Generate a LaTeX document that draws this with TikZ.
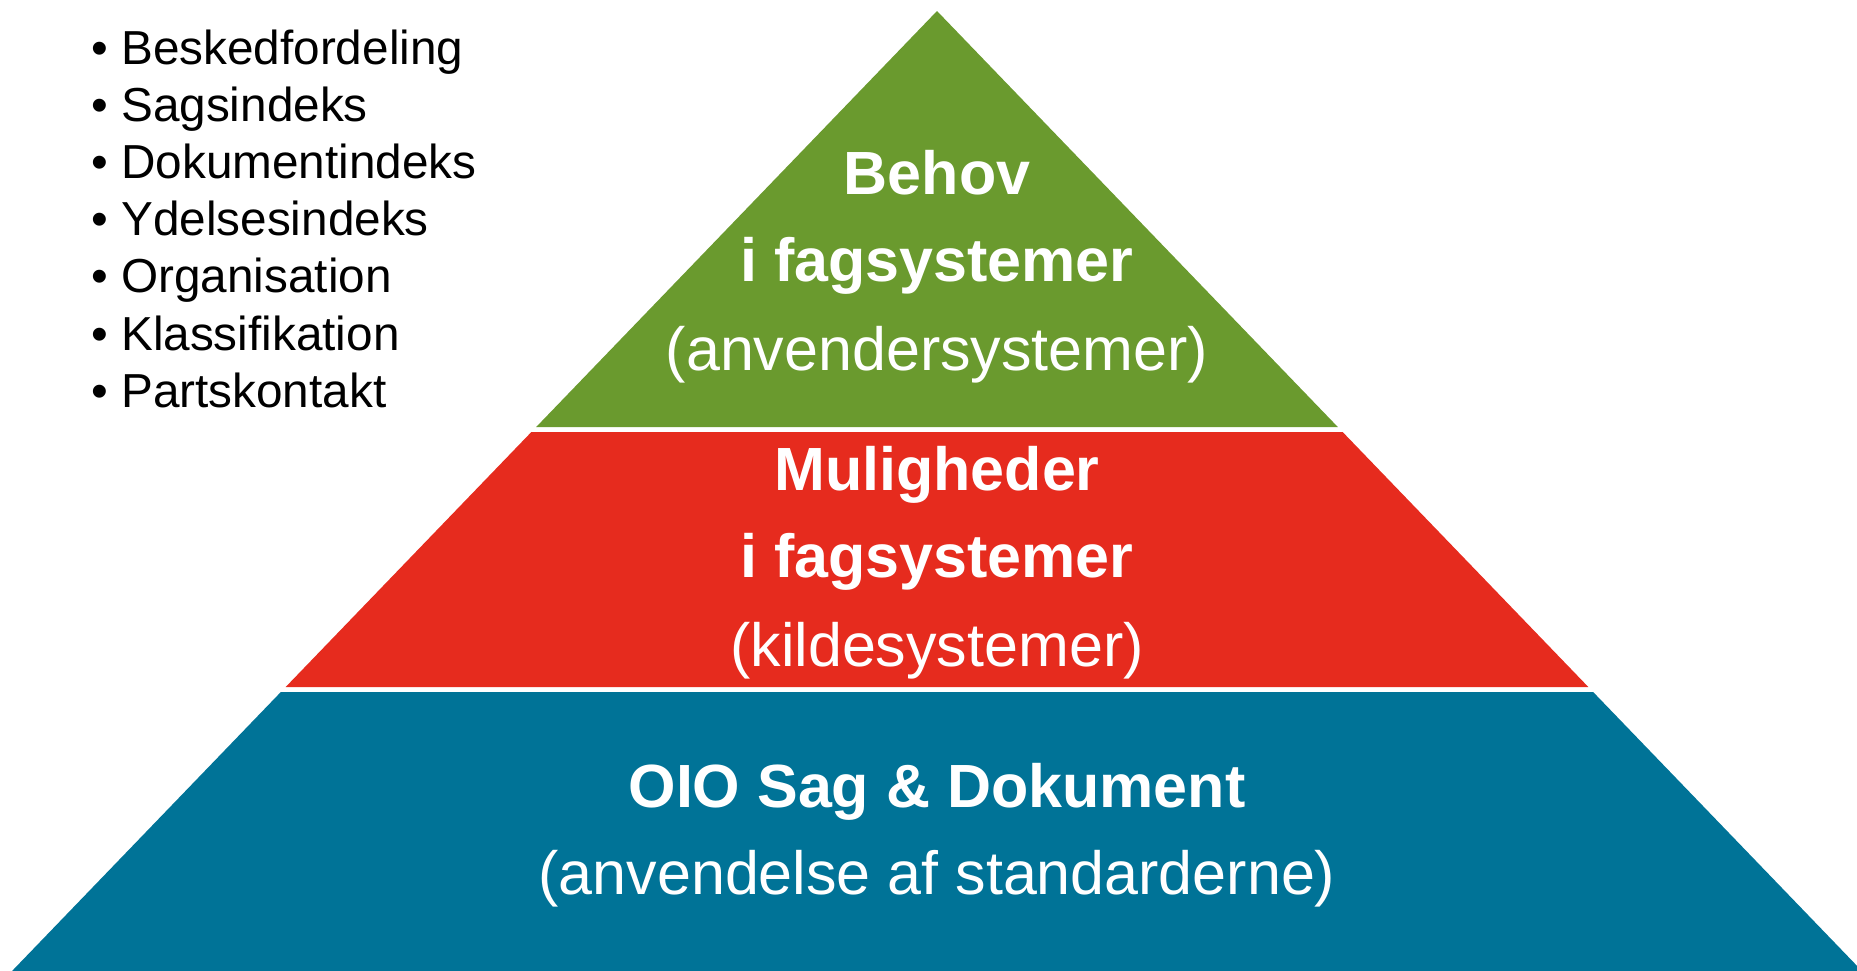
\documentclass[tikz,border=0pt]{standalone}
\usepackage{fontspec}
\setmainfont{Liberation Sans}
\definecolor{behovgreen}{RGB}{106,154,46}
\definecolor{mulred}{RGB}{230,43,30}
\definecolor{oioblue}{RGB}{0,115,151}
\tikzset{
  lvltext/.style={text=white, inner sep=0pt, anchor=base, font=\fontsize{61}{72}\selectfont},
  lvlhead/.style={lvltext, font=\fontsize{61}{72}\selectfont\bfseries},
  listitem/.style={inner sep=0pt, anchor=base west, font=\fontsize{47.7}{57}\selectfont}
}

\begin{document}
\begin{tikzpicture}[x=1pt,y=-1pt]
\def\tx{937}
\def\ty{11}
\def\s{0.9635}
  \clip (0,0) rectangle (1857,970);

  % the three levels of the pyramid
  \foreach \a/\b/\c in {11/427/behovgreen, 432/687/mulred, 692/975/oioblue}
    \fill[\c] ({\tx-\s*(\a-\ty)},\a) -- ({\tx+\s*(\a-\ty)},\a)
       -- ({\tx+\s*(\b-\ty)},\b) -- ({\tx-\s*(\b-\ty)},\b) -- cycle;

  \node[lvlhead] (behov)      at (\tx,194) {Behov};
  \node[lvlhead] (behovfag)   at (\tx,281) {i fagsystemer};
  \node[lvltext] (anvender)   at (\tx,370) {(anvendersystemer)};
  \node[lvlhead] (muligheder) at (\tx,490) {Muligheder};
  \node[lvlhead] (mulfag)     at (\tx,577) {i fagsystemer};
  \node[lvltext] (kilde)      at (\tx,666) {(kildesystemer)};
  \node[lvlhead] (oio)        at (\tx,807) {OIO Sag \& Dokument};
  \node[lvltext] (anvendelse) at (\tx,894) {(anvendelse af standarderne)};

  % list at the top left
  \foreach \t [count=\i from 0] in {Beskedfordeling,Sagsindeks,Dokumentindeks,Ydelsesindeks,Organisation,Klassifikation,Partskontakt}
    \node[listitem] (item\i) at (91,{64+57.2*\i}) {•\hspace{0.28em}\t};
\end{tikzpicture}
\end{document}
